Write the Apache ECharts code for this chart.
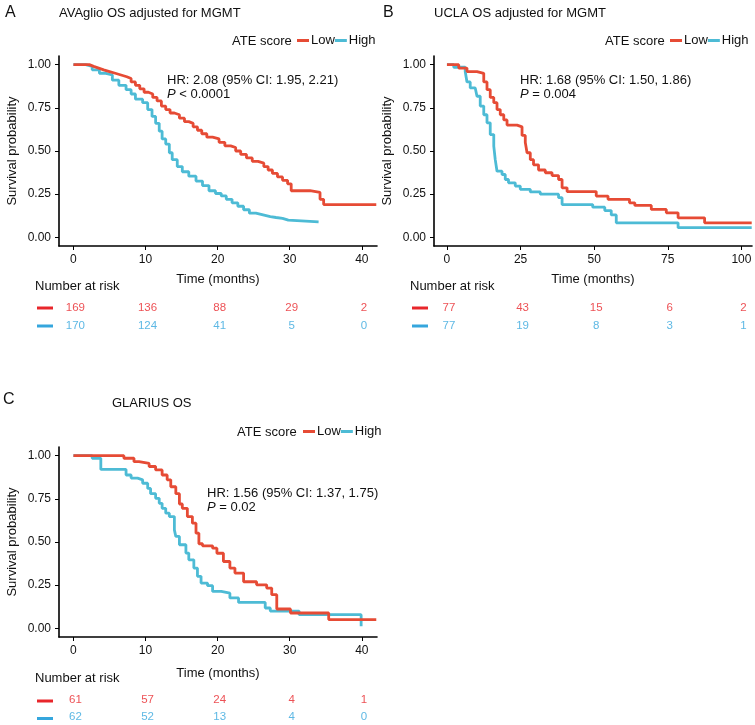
<!DOCTYPE html>
<html>
<head>
<meta charset="utf-8">
<script src="https://cdn.jsdelivr.net/npm/echarts@6/dist/echarts.min.js"></script>
<style>
html,body{margin:0;padding:0;background:#fff;}
#c{width:755px;height:725px;}
</style>
</head>
<body>
<div id="c"></div>
<script>
// ---------- DATA ----------
const groups = ['Low', 'High'];
const xTicksA = [0, 10, 20, 30, 40];
const xTicksB = [0, 25, 50, 75, 100];
const xTicksC = [0, 10, 20, 30, 40];
const yTicks = [0, 0.25, 0.5, 0.75, 1.0];

// Panel A: AVAglio
const aLowT = [0, 2.2, 2.8, 3.5, 4.2, 5.0, 5.8, 6.6, 7.4, 8.0, 8.6, 9.2, 9.8, 10.4, 11.0, 11.6, 12.2, 12.8, 13.4, 14.0, 14.7, 15.4, 16.0, 16.6, 17.2, 17.8, 18.5, 19.3, 20.2, 21.0, 21.8, 22.5, 23.2, 24.0, 24.8, 25.6, 26.4, 27.0, 27.6, 28.3, 29.0, 29.7, 30.2, 32.8, 34.2, 34.7, 42.0];
const aLowS = [1.00, 0.99, 0.98, 0.97, 0.96, 0.95, 0.94, 0.93, 0.92, 0.90, 0.88, 0.86, 0.84, 0.83, 0.81, 0.79, 0.76, 0.74, 0.72, 0.71, 0.69, 0.67, 0.66, 0.64, 0.62, 0.60, 0.58, 0.57, 0.55, 0.53, 0.52, 0.50, 0.48, 0.46, 0.44, 0.43, 0.41, 0.39, 0.37, 0.35, 0.33, 0.31, 0.27, 0.26, 0.22, 0.19, 0.19];
const aHighT = [0, 1.7, 2.6, 3.6, 4.5, 5.4, 6.3, 7.3, 8.0, 8.6, 9.6, 10.3, 10.9, 11.4, 11.9, 12.3, 12.8, 13.3, 13.7, 14.4, 15.1, 16.0, 17.0, 17.9, 18.8, 19.7, 20.5, 21.2, 22.0, 22.8, 23.6, 24.4, 25.3, 26.3, 27.3, 28.1, 29.0, 29.8, 34.0];
const aHighS = [1.00, 0.99, 0.97, 0.95, 0.94, 0.91, 0.88, 0.855, 0.83, 0.80, 0.78, 0.74, 0.70, 0.66, 0.615, 0.57, 0.54, 0.49, 0.45, 0.41, 0.38, 0.354, 0.326, 0.30, 0.27, 0.254, 0.24, 0.22, 0.20, 0.18, 0.16, 0.14, 0.13, 0.12, 0.115, 0.11, 0.10, 0.09, 0.09];

// Panel B: UCLA
const bLowT = [0, 4.0, 6.8, 10.2, 12.5, 13.6, 14.7, 15.9, 17.0, 18.1, 19.3, 20.4, 23.8, 25.5, 26.6, 27.2, 28.3, 29.4, 31.1, 33.4, 35.7, 37.9, 39.1, 40.8, 50.7, 54.7, 62.0, 63.8, 69.4, 74.5, 78.5, 87.5, 103.5];
const bLowS = [1.0, 0.98, 0.96, 0.95, 0.90, 0.855, 0.81, 0.78, 0.74, 0.71, 0.68, 0.65, 0.64, 0.59, 0.55, 0.49, 0.45, 0.42, 0.39, 0.374, 0.358, 0.335, 0.287, 0.265, 0.239, 0.22, 0.20, 0.185, 0.162, 0.142, 0.113, 0.084, 0.084];
const bHighT = [0, 2.3, 6.2, 6.8, 7.9, 9.6, 10.2, 11.3, 12.5, 13.6, 14.7, 15.9, 16.4, 17.0, 18.7, 19.8, 20.9, 23.2, 24.9, 28.3, 31.7, 37.9, 39.1, 49.5, 53.6, 55.8, 57.5, 78.5, 103.5];
const bHighS = [1.0, 0.985, 0.96, 0.90, 0.865, 0.855, 0.817, 0.76, 0.71, 0.663, 0.595, 0.528, 0.45, 0.383, 0.364, 0.335, 0.316, 0.297, 0.278, 0.263, 0.25, 0.23, 0.19, 0.175, 0.155, 0.13, 0.084, 0.056, 0.056];

// Panel C: GLARIUS
const cLowT = [0, 7.0, 8.4, 9.1, 10.5, 11.4, 12.3, 13.0, 13.5, 14.2, 14.7, 15.1, 15.8, 16.5, 17.0, 17.4, 17.9, 19.3, 19.9, 20.8, 21.7, 22.4, 23.6, 25.4, 26.8, 27.5, 28.2, 30.1, 35.4, 42.0];
const cLowS = [1.0, 0.985, 0.965, 0.955, 0.937, 0.917, 0.888, 0.86, 0.82, 0.78, 0.72, 0.695, 0.647, 0.609, 0.551, 0.49, 0.478, 0.464, 0.435, 0.387, 0.349, 0.32, 0.27, 0.252, 0.233, 0.195, 0.112, 0.089, 0.051, 0.051];
const cHighT = [0, 2.6, 3.8, 7.3, 8.0, 8.9, 9.6, 10.3, 10.7, 11.4, 11.9, 12.3, 12.8, 13.3, 14.0, 14.2, 14.7, 15.6, 16.0, 16.7, 17.2, 17.7, 18.6, 19.3, 20.5, 21.7, 22.9, 26.6, 27.3, 31.3, 39.9];
const cHighS = [1.0, 0.985, 0.92, 0.888, 0.87, 0.86, 0.84, 0.81, 0.78, 0.753, 0.724, 0.695, 0.667, 0.647, 0.57, 0.532, 0.484, 0.436, 0.397, 0.349, 0.301, 0.262, 0.247, 0.214, 0.204, 0.176, 0.15, 0.118, 0.10, 0.079, 0.012];

// Number at risk
const riskA_Low = [169, 136, 88, 29, 2];
const riskA_High = [170, 124, 41, 5, 0];
const riskB_Low = [77, 43, 15, 6, 2];
const riskB_High = [77, 19, 8, 3, 1];
const riskC_Low = [61, 57, 24, 4, 1];
const riskC_High = [62, 52, 13, 4, 0];

// Text
const titles = ['AVAglio OS adjusted for MGMT', 'UCLA OS adjusted for MGMT', 'GLARIUS OS'];
const panelLetters = ['A', 'B', 'C'];
const hrTexts = ['HR: 2.08 (95% CI: 1.95, 2.21)', 'HR: 1.68 (95% CI: 1.50, 1.86)', 'HR: 1.56 (95% CI: 1.37, 1.75)'];
const pTexts = [' < 0.0001', ' = 0.004', ' = 0.02'];

// ---------- STYLE / LAYOUT ----------
const FONT = '"Liberation Sans", Arial, Helvetica, sans-serif';
const RED = '#E64B35', BLUE = '#4DBBD5';
const RED_T = '#E8262B', BLUE_T = '#35A6DD';
const TXT = '#111';

const zip = (t, s) => t.map((v, i) => [v, s[i]]);

const panels = [
  {grid: {left: 59, top: 56, width: 318, height: 190}, risk: {left: 59, top: 299, width: 318, height: 36}, xmin: -2, xmax: 42.1, ticks: xTicksA, nameGap: 27,
   low: zip(aLowT, aLowS), high: zip(aHighT, aHighS), rLow: riskA_Low, rHigh: riskA_High},
  {grid: {left: 434, top: 56, width: 318, height: 190}, risk: {left: 434, top: 299, width: 318, height: 36}, xmin: -4.4, xmax: 103.6, ticks: xTicksB, nameGap: 27,
   low: zip(bLowT, bLowS), high: zip(bHighT, bHighS), rLow: riskB_Low, rHigh: riskB_High},
  {grid: {left: 59, top: 447, width: 318, height: 190}, risk: {left: 59, top: 692, width: 318, height: 35}, xmin: -2, xmax: 42.1, ticks: xTicksC, nameGap: 30,
   low: zip(cLowT, cLowS), high: zip(cHighT, cHighS), rLow: riskC_Low, rHigh: riskC_High}
];

const grid = [], xAxis = [], yAxis = [], series = [];
panels.forEach((p, k) => {
  grid.push(Object.assign({containLabel: false}, p.grid));
  grid.push(Object.assign({containLabel: false}, p.risk));
  const gi = 2 * k, ri = 2 * k + 1;
  xAxis.push({
    type: 'value', gridIndex: gi, min: p.xmin, max: p.xmax,
    name: 'Time (months)', nameLocation: 'middle', nameGap: p.nameGap,
    nameTextStyle: {fontFamily: FONT, fontSize: 13, color: TXT},
    axisLine: {onZero: false, lineStyle: {color: '#000', width: 1.6}},
    axisTick: {show: true, length: 4, lineStyle: {color: '#000', width: 1}, customValues: p.ticks},
    axisLabel: {fontFamily: FONT, fontSize: 12, color: TXT, margin: 8, customValues: p.ticks},
    splitLine: {show: false}
  });
  yAxis.push({
    type: 'value', gridIndex: gi, min: -0.05, max: 1.05,
    name: 'Survival probability', nameLocation: 'middle', nameGap: 40,
    nameTextStyle: {fontFamily: FONT, fontSize: 13, color: TXT},
    axisLine: {show: true, onZero: false, lineStyle: {color: '#000', width: 1.6}},
    axisTick: {show: true, length: 4, lineStyle: {color: '#000', width: 1}, customValues: yTicks},
    axisLabel: {fontFamily: FONT, fontSize: 12, color: TXT, margin: 8, customValues: yTicks, formatter: v => v.toFixed(2)},
    splitLine: {show: false}
  });
  xAxis.push({type: 'value', gridIndex: ri, min: p.xmin, max: p.xmax, show: false});
  yAxis.push({type: 'category', gridIndex: ri, data: ['High', 'Low'], show: false});

  const ax = 2 * k;
  series.push({name: 'Low', type: 'line', step: 'end', xAxisIndex: ax, yAxisIndex: ax, data: p.low,
    showSymbol: false, symbol: 'none', lineStyle: {color: RED, width: 2.8}, itemStyle: {color: RED}, animation: false, z: 3});
  series.push({name: 'High', type: 'line', step: 'end', xAxisIndex: ax, yAxisIndex: ax, data: p.high,
    showSymbol: false, symbol: 'none', lineStyle: {color: BLUE, width: 2.8}, itemStyle: {color: BLUE}, animation: false, z: 2});

  const mkRisk = (vals, cat, col) => ({
    type: 'scatter', xAxisIndex: ri, yAxisIndex: ri, symbolSize: 1, itemStyle: {color: 'rgba(0,0,0,0)'},
    data: vals.map((v, i) => [p.ticks[i], cat, v]), silent: true, animation: false,
    label: {show: true, position: 'inside', offset: [2, 0], formatter: q => String(q.value[2]), color: col, fontFamily: FONT, fontSize: 11.5}
  });
  series.push(mkRisk(p.rLow, 'Low', RED_T));
  series.push(mkRisk(p.rHigh, 'High', BLUE_T));
});

const legendPos = [{left: 297, top: 34}, {left: 670, top: 34}, {left: 303, top: 425}];
const legend = legendPos.map(pos => ({
  left: pos.left, top: pos.top, width: 200, padding: 0, orient: 'horizontal',
  data: groups, icon: 'rect', itemWidth: 12, itemHeight: 3, itemGap: 0,
  selectedMode: false, textStyle: {fontFamily: FONT, fontSize: 13, color: TXT, padding: [0, 0, 0, -3]}
}));

// graphic texts
const txt = (x, y, text, opts) => ({type: 'text', left: x, top: y, style: Object.assign({text, fontFamily: FONT, fontSize: 13, fill: TXT}, opts || {})});
const graphic = [];
const letterPos = [[5, 5], [383, 5], [3, 392]];
const titlePos = [[59, 7], [434, 7], [112, 397]];
const atePos = [[232, 35], [605, 35], [237, 426]];
const hrPos = [[167, 74], [520, 74], [207, 487]];
const narPos = [[35, 280], [410, 280], [35, 672]];
const rowY = [[308, 326], [308, 326], [701, 718.5]];
const dashX = [37, 412, 37];
for (let k = 0; k < 3; k++) {
  graphic.push(txt(letterPos[k][0], letterPos[k][1], panelLetters[k], {fontSize: 16}));
  graphic.push(txt(titlePos[k][0], titlePos[k][1], titles[k]));
  graphic.push(txt(atePos[k][0], atePos[k][1], 'ATE score'));
  graphic.push(txt(hrPos[k][0], hrPos[k][1], hrTexts[k]));
  graphic.push({type: 'text', left: hrPos[k][0], top: hrPos[k][1] + 14, style: {
    rich: {i: {fontStyle: 'italic', fontFamily: FONT, fontSize: 13, fill: TXT}, n: {fontFamily: FONT, fontSize: 13, fill: TXT}},
    text: '{i|P}{n|' + pTexts[k] + '}'}});
  graphic.push(txt(narPos[k][0], narPos[k][1], 'Number at risk'));
  graphic.push({type: 'rect', shape: {x: dashX[k], y: rowY[k][0] - 1.5, width: 16, height: 3}, style: {fill: RED_T}});
  graphic.push({type: 'rect', shape: {x: dashX[k], y: rowY[k][1] - 1.5, width: 16, height: 3}, style: {fill: BLUE_T}});
}

const chart = echarts.init(document.getElementById('c'), null, {renderer: 'canvas'});
chart.setOption({
  animation: false,
  backgroundColor: '#fff',
  grid, xAxis, yAxis, series, legend, graphic
});
</script>
</body>
</html>
